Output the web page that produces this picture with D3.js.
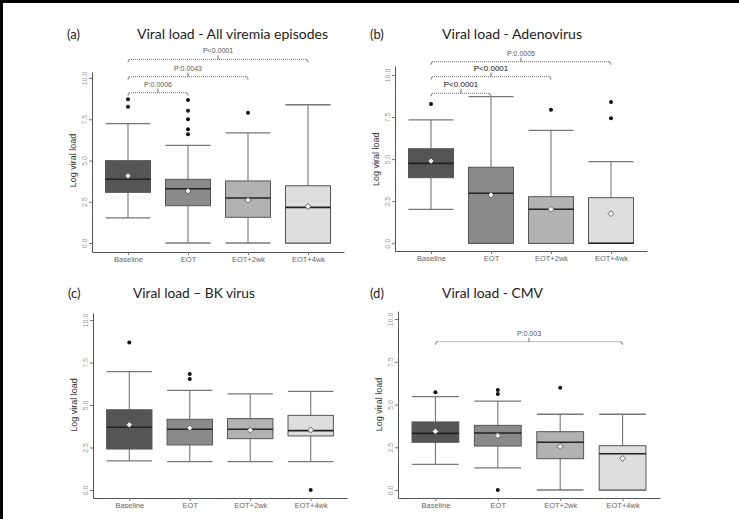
<!DOCTYPE html>
<html>
<head>
<meta charset="utf-8">
<title>Viral load</title>
<script src="https://cdn.jsdelivr.net/npm/d3@7"></script>
<style>
    body { margin: 0; padding: 0; background: #fff; }
    svg { display: block; }
</style>
</head>
<body>
<div id="chart"></div>
<script>
var categories = ["Baseline", "EOT", "EOT+2wk", "EOT+4wk"];
var yTicks = [0, 2.5, 5, 7.5, 10];

// (a) all viremia episodes
var allLow = [1.52, 0, 0, 0];
var allQ1 = [3.07, 2.26, 1.56, 0];
var allMedian = [3.86, 3.29, 2.73, 2.16];
var allQ3 = [4.99, 3.86, 3.76, 3.47];
var allHigh = [7.23, 5.92, 6.67, 8.38];
var allMean = [4.08, 3.15, 2.59, 2.22];
var allOutliers = [[8.26, 8.71], [6.59, 6.89, 7.5, 8.02, 8.67], [7.9], []];
var allPvalues = ["P:0.0006", "P:0.0043", "P<0.0001"];
var allBracketTo = ["EOT", "EOT+2wk", "EOT+4wk"];
var allBracketLevel = [9.11, 10.08, 11.13];

// (b) adenovirus
var adenoLow = [2.02, 0, 0, 0];
var adenoQ1 = [3.9, 0, 0, 0];
var adenoMedian = [4.75, 2.97, 2.02, 0];
var adenoQ3 = [5.62, 4.52, 2.77, 2.71];
var adenoHigh = [7.33, 8.71, 6.71, 4.85];
var adenoMean = [4.89, 2.87, 2.02, 1.76];
var adenoOutliers = [[8.28], [], [7.94], [7.43, 8.4]];
var adenoPvalues = ["P<0.0001", "P<0.0001", "P:0.0005"];
var adenoBracketTo = ["EOT", "EOT+2wk", "EOT+4wk"];
var adenoBracketLevel = [8.91, 9.9, 10.79];

// (c) BK virus
var bkLow = [1.71, 1.67, 1.67, 1.67];
var bkQ1 = [2.41, 2.65, 3.02, 3.18];
var bkMedian = [3.69, 3.57, 3.57, 3.49];
var bkQ3 = [4.72, 4.16, 4.2, 4.39];
var bkHigh = [6.96, 5.86, 5.65, 5.8];
var bkMean = [3.84, 3.65, 3.51, 3.53];
var bkOutliers = [[8.67], [6.53, 6.82], [], [0]];

// (d) CMV
var cmvLow = [1.5, 1.29, 0, 0];
var cmvQ1 = [2.79, 2.57, 1.83, 0];
var cmvMedian = [3.31, 3.33, 2.79, 2.12];
var cmvQ3 = [3.98, 3.78, 3.41, 2.59];
var cmvHigh = [5.46, 5.2, 4.43, 4.43];
var cmvMean = [3.43, 3.18, 2.55, 1.85];
var cmvOutliers = [[5.71], [0, 5.61, 5.85], [5.98], []];
var cmvPvalues = ["P:0.003"];
var cmvBracketTo = ["EOT+4wk"];
var cmvBracketLevel = [8.67];

var fills = ["#555555", "#8a8a8a", "#b2b2b2", "#dedede"];

var W = 739, H = 519;
var svg = d3.select("#chart").append("svg")
    .attr("width", W).attr("height", H);

// frame lines (left + top)
svg.append("rect").attr("x", 0).attr("y", 0).attr("width", W).attr("height", 3).attr("fill", "#000");
svg.append("rect").attr("x", 0).attr("y", 0).attr("width", 3).attr("height", H).attr("fill", "#000");

function makeRows(low, q1, med, q3, high, mean, outl) {
    return categories.map(function (c, i) {
        return { cat: c, low: low[i], q1: q1[i], med: med[i], q3: q3[i], high: high[i], mean: mean[i], out: outl[i], fill: fills[i] };
    });
}

var panels = [
    { tag: "(a)", title: "Viral load - All viremia episodes", tagX: 67, titleX: 137, titleW: 191, titleY: 39,
      x0: 92, x1: 344, y0: 243, y10: 78, base: 252, top: 72,
      rows: makeRows(allLow, allQ1, allMedian, allQ3, allHigh, allMean, allOutliers),
      pv: allPvalues, to: allBracketTo, lev: allBracketLevel, strong: [] },
    { tag: "(b)", title: "Viral load - Adenovirus", tagX: 370, titleX: 442, titleW: 140, titleY: 39,
      x0: 395, x1: 647, y0: 243.3, y10: 75, base: 251, top: 66,
      rows: makeRows(adenoLow, adenoQ1, adenoMedian, adenoQ3, adenoHigh, adenoMean, adenoOutliers),
      pv: adenoPvalues, to: adenoBracketTo, lev: adenoBracketLevel, strong: [0, 1] },
    { tag: "(c)", title: "Viral load \u2013 BK virus", tagX: 68, titleX: 133, titleW: 122, titleY: 298,
      x0: 93, x1: 347, y0: 490, y10: 320, base: 498, top: 313,
      rows: makeRows(bkLow, bkQ1, bkMedian, bkQ3, bkHigh, bkMean, bkOutliers),
      pv: [], to: [], lev: [], strong: [] },
    { tag: "(d)", title: "Viral load - CMV", tagX: 370, titleX: 442, titleW: 101, titleY: 298,
      x0: 398, x1: 660, y0: 490, y10: 319, base: 498, top: 311,
      rows: makeRows(cmvLow, cmvQ1, cmvMedian, cmvQ3, cmvHigh, cmvMean, cmvOutliers),
      pv: cmvPvalues, to: cmvBracketTo, lev: cmvBracketLevel, strong: [] }
];

panels.forEach(function (p) {
    var g = svg.append("g");

    var x = d3.scalePoint().domain(categories).range([p.x0, p.x1]).padding(0.6);
    var y = d3.scaleLinear().domain([0, 10]).range([p.y0, p.y10]);
    var bw = x.step() * 0.75;

    // titles
    g.append("text").attr("x", p.tagX).attr("y", p.titleY)
        .attr("font-family", "Lato, sans-serif").attr("font-size", 13).attr("fill", "#222")
        .text(p.tag);
    g.append("text").attr("x", p.titleX).attr("y", p.titleY)
        .attr("font-family", "Lato, sans-serif").attr("font-size", 13.5).attr("fill", "#222")
        .attr("textLength", p.titleW).attr("lengthAdjust", "spacingAndGlyphs")
        .text(p.title);

    // axes
    var yAxisScale = y.copy().domain([y.invert(p.base), y.invert(p.top)]).range([p.base, p.top]);
    var yAxis = g.append("g").attr("transform", "translate(" + p.x0 + ",0)")
        .call(d3.axisLeft(yAxisScale).tickValues(yTicks).tickFormat(d3.format(".1f")).tickSize(3).tickSizeOuter(0));
    yAxis.select(".domain").attr("stroke", "#555");
    yAxis.selectAll(".tick line").attr("stroke", "#777");
    yAxis.selectAll(".tick text")
        .attr("x", 0).attr("y", 0).attr("dy", 0)
        .attr("text-anchor", "middle")
        .attr("transform", "translate(-5,0) rotate(-90)")
        .attr("font-family", "Liberation Sans, Arial, sans-serif")
        .attr("font-size", 7).attr("fill", "#999");

    var xAxis = g.append("g").attr("transform", "translate(0," + p.base + ")")
        .call(d3.axisBottom(x).tickSize(3).tickSizeOuter(0));
    xAxis.select(".domain").attr("stroke", "#555");
    xAxis.selectAll(".tick line").attr("stroke", "#777");
    xAxis.selectAll(".tick text")
        .attr("y", 5)
        .attr("font-family", "Liberation Sans, Arial, sans-serif")
        .attr("font-size", 7.5).attr("fill", "#666");

    g.append("text")
        .attr("transform", "translate(" + (p.x0 - 16) + "," + y(5) + ") rotate(-90)")
        .attr("text-anchor", "middle")
        .attr("font-family", "Liberation Sans, Arial, sans-serif")
        .attr("font-size", 9).attr("fill", "#333")
        .text("Log viral load");

    // boxes
    var box = g.selectAll(".box").data(p.rows).enter().append("g");

    box.append("line")
        .attr("x1", function (d) { return x(d.cat); }).attr("x2", function (d) { return x(d.cat); })
        .attr("y1", function (d) { return y(d.low); }).attr("y2", function (d) { return y(d.high); })
        .attr("stroke", "#777").attr("stroke-width", 1.1);

    ["low", "high"].forEach(function (k) {
        box.append("line")
            .attr("x1", function (d) { return x(d.cat) - bw / 2; })
            .attr("x2", function (d) { return x(d.cat) + bw / 2; })
            .attr("y1", function (d) { return y(d[k]); }).attr("y2", function (d) { return y(d[k]); })
            .attr("stroke", "#777").attr("stroke-width", 1.3);
    });

    box.append("rect")
        .attr("x", function (d) { return x(d.cat) - bw / 2; })
        .attr("width", bw)
        .attr("y", function (d) { return y(d.q3); })
        .attr("height", function (d) { return y(d.q1) - y(d.q3); })
        .attr("fill", function (d) { return d.fill; })
        .attr("stroke", "#555").attr("stroke-width", 1);

    box.append("line")
        .attr("x1", function (d) { return x(d.cat) - bw / 2; })
        .attr("x2", function (d) { return x(d.cat) + bw / 2; })
        .attr("y1", function (d) { return y(d.med); }).attr("y2", function (d) { return y(d.med); })
        .attr("stroke", "#222").attr("stroke-width", 1.6);

    // mean marker: small open diamond
    box.append("path")
        .attr("d", "M0,-3L3,0L0,3L-3,0Z")
        .attr("transform", function (d) { return "translate(" + x(d.cat) + "," + y(d.mean) + ")"; })
        .attr("fill", "#f4f4f4").attr("stroke", "#666").attr("stroke-width", 1);

    box.selectAll(".out")
        .data(function (d) { return d.out.map(function (v) { return { cat: d.cat, v: v }; }); })
        .enter().append("circle")
        .attr("cx", function (d) { return x(d.cat); })
        .attr("cy", function (d) { return y(d.v); })
        .attr("r", 2).attr("fill", "#111");

    // significance brackets
    p.pv.forEach(function (label, i) {
        var xa = x(categories[0]), xb = x(p.to[i]), yy = y(p.lev[i]);
        var xm = (xa + xb) / 2;
        var b = g.append("g");
        b.append("line").attr("x1", xa + 1).attr("x2", xb - 1).attr("y1", yy).attr("y2", yy)
            .attr("stroke", "#777").attr("stroke-width", 1).attr("stroke-dasharray", "1,1");
        b.append("path").attr("d", "M" + (xa + 2) + "," + yy + " Q" + xa + "," + yy + " " + xa + "," + (yy + 3))
            .attr("fill", "none").attr("stroke", "#777");
        b.append("path").attr("d", "M" + (xb - 2) + "," + yy + " Q" + xb + "," + yy + " " + xb + "," + (yy + 3))
            .attr("fill", "none").attr("stroke", "#777");
        b.append("line").attr("x1", xm).attr("x2", xm).attr("y1", yy).attr("y2", yy - 4)
            .attr("stroke", "#666").attr("stroke-width", 1);
        var strong = p.strong.indexOf(i) >= 0;
        b.append("text").attr("x", xm).attr("y", yy - 6)
            .attr("text-anchor", "middle")
            .attr("font-family", "Liberation Sans, Arial, sans-serif")
            .attr("font-size", strong ? 8 : 7)
            .attr("fill", strong ? "#111" : "#555")
            .text(label);
    });
});
</script>
</body>
</html>
